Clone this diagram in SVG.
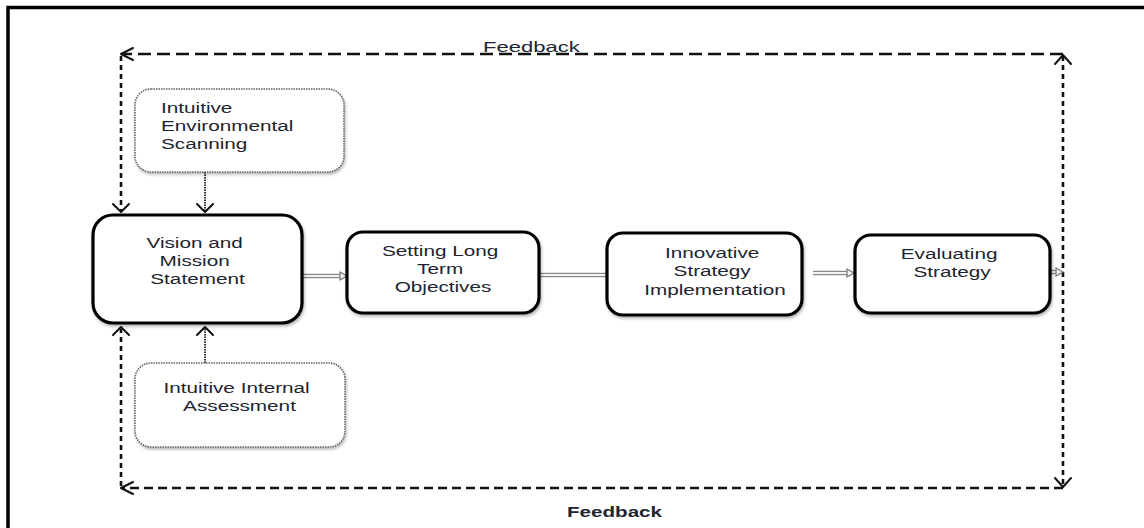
<svg xmlns="http://www.w3.org/2000/svg" width="1144" height="528" viewBox="0 0 1144 528">
  <defs>
    <filter id="soft" x="-10%" y="-10%" width="130%" height="140%">
      <feDropShadow dx="1" dy="2" stdDeviation="1.5" flood-color="#000" flood-opacity="0.3"/>
    </filter>
  </defs>
  <style>
    .frame { fill: none; stroke: #000; stroke-width: 3.5; }
    .box { fill: #fff; stroke: #000; stroke-width: 3.2; }
    .side { fill: #fff; stroke: #666; stroke-width: 1.6; stroke-dasharray: 1.5 1; }
    .lbl { font-family: "Liberation Sans", Arial, sans-serif; font-size: 14px; fill: #1e2430; }
    .fb-top { font-family: "Liberation Sans", Arial, sans-serif; font-size: 15px; fill: #1e2430; }
    .fb-bot { font-family: "Liberation Sans", Arial, sans-serif; font-size: 14px; font-weight: bold; fill: #1e2430; }
    .dash-top { fill: none; stroke: #111; stroke-width: 2.4; stroke-dasharray: 13 6; }
    .dash-bot { fill: none; stroke: #111; stroke-width: 2.4; stroke-dasharray: 9 5; }
    .dash-v { fill: none; stroke: #111; stroke-width: 2.6; stroke-dasharray: 5 4; }
    .dots { fill: none; stroke: #333; stroke-width: 2; stroke-dasharray: 1.5 1; }
    .head { fill: none; stroke: #111; stroke-width: 2; stroke-linecap: round; stroke-linejoin: round; }
    .pipe-out { fill: none; stroke: #8a8a8a; stroke-width: 4.5; }
    .pipe-in { fill: none; stroke: #f2f2f2; stroke-width: 1.8; }
    .tip { fill: #f2f2f2; stroke: #777; stroke-width: 1.2; }
  </style>

  <rect width="1144" height="528" fill="#fff"/>

  <!-- outer frame (left and top edges) -->
  <path class="frame" d="M 8 528 V 7.5 H 1144"/>

  <!-- connectors -->
  <g id="connectors">
    <!-- feedback loop, top -->
    <path class="dash-top" d="M 1063 54 H 121"/>
    <path class="head" d="M 133 48 L 121 54 L 133 60"/>
    <path class="dash-v" d="M 121 56 V 211"/>
    <path class="head" d="M 113 204 L 121 212 L 129 204"/>

    <!-- feedback loop, right side -->
    <path class="dash-v" d="M 1063 56 V 486"/>
    <path class="head" d="M 1055 64 L 1063 55 L 1071 64"/>
    <path class="head" d="M 1055 478 L 1063 487 L 1071 478"/>

    <!-- feedback loop, bottom -->
    <path class="dash-bot" d="M 1063 488 H 121"/>
    <path class="head" d="M 133 482 L 121 488 L 133 494"/>
    <path class="dash-v" d="M 121 486 V 329"/>
    <path class="head" d="M 113 335 L 121 327 L 129 335"/>

    <!-- scanning / assessment inputs -->
    <path class="dots" d="M 205 172 V 211"/>
    <path class="head" d="M 197 204 L 205 212 L 213 204"/>
    <path class="dots" d="M 205 363 V 329"/>
    <path class="head" d="M 197 335 L 205 327 L 213 335"/>

    <!-- main flow -->
    <path class="pipe-out" d="M 303 276 H 341"/>
    <path class="pipe-in" d="M 303 276 H 342"/>
    <path class="tip" d="M 340 272 L 347 276 L 340 280 Z"/>

    <path class="pipe-out" d="M 540 275 H 607"/>
    <path class="pipe-in" d="M 540 275 H 607"/>

    <path class="pipe-out" d="M 813 273 H 848"/>
    <path class="pipe-in" d="M 813 273 H 849"/>
    <path class="tip" d="M 847 269 L 854 273 L 847 277 Z"/>

    <path class="pipe-out" d="M 1051 272 H 1057"/>
    <path class="pipe-in" d="M 1051 272 H 1058"/>
    <path class="tip" d="M 1056 268 L 1063 272 L 1056 276 Z"/>
  </g>

  <!-- feedback labels -->
  <g id="feedback-top">
    <text class="fb-top" transform="translate(531.5 0) scale(1.47 1)" x="0" y="52" text-anchor="middle">Feedback</text>
  </g>
  <g id="feedback-bottom">
    <text class="fb-bot" transform="translate(614.5 0) scale(1.47 1)" x="0" y="517" text-anchor="middle">Feedback</text>
  </g>

  <!-- nodes -->
  <g id="environmental-scanning">
    <rect class="side" x="135" y="89" width="209" height="83" rx="16" filter="url(#soft)"/>
    <text class="lbl" transform="translate(161 0) scale(1.48 1)">
      <tspan x="0" y="113">Intuitive</tspan>
      <tspan x="0" y="131">Environmental</tspan>
      <tspan x="0" y="149">Scanning</tspan>
    </text>
  </g>

  <g id="internal-assessment">
    <rect class="side" x="135" y="363" width="210" height="84" rx="16" filter="url(#soft)"/>
    <text class="lbl" transform="translate(239.5 0) scale(1.48 1)" text-anchor="middle">
      <tspan x="0" y="393">Intuitive Internal</tspan>
      <tspan x="0" y="411">Assessment</tspan>
    </text>
  </g>

  <g id="vision-mission">
    <rect class="box" x="93" y="215" width="209" height="108" rx="20" filter="url(#soft)"/>
    <text class="lbl" transform="translate(197.5 0) scale(1.48 1)" text-anchor="middle">
      <tspan x="0" y="248">Vision and</tspan>
      <tspan x="0" y="266">Mission</tspan>
      <tspan x="0" y="284">Statement</tspan>
    </text>
  </g>

  <g id="long-term-objectives">
    <rect class="box" x="347" y="232" width="192" height="81" rx="16" filter="url(#soft)"/>
    <text class="lbl" transform="translate(443 0) scale(1.48 1)" text-anchor="middle">
      <tspan x="0" y="256">Setting Long</tspan>
      <tspan x="0" y="274">Term</tspan>
      <tspan x="0" y="292">Objectives</tspan>
    </text>
  </g>

  <g id="strategy-implementation">
    <rect class="box" x="607" y="233" width="195" height="82" rx="16" filter="url(#soft)"/>
    <text class="lbl" transform="translate(715 0) scale(1.48 1)" text-anchor="middle">
      <tspan x="0" y="258">Innovative</tspan>
      <tspan x="0" y="276">Strategy</tspan>
      <tspan x="0" y="295">Implementation</tspan>
    </text>
  </g>

  <g id="evaluating-strategy">
    <rect class="box" x="855" y="235" width="195" height="78" rx="16" filter="url(#soft)"/>
    <text class="lbl" transform="translate(952 0) scale(1.48 1)" text-anchor="middle">
      <tspan x="0" y="259">Evaluating</tspan>
      <tspan x="0" y="277">Strategy</tspan>
    </text>
  </g>
</svg>
